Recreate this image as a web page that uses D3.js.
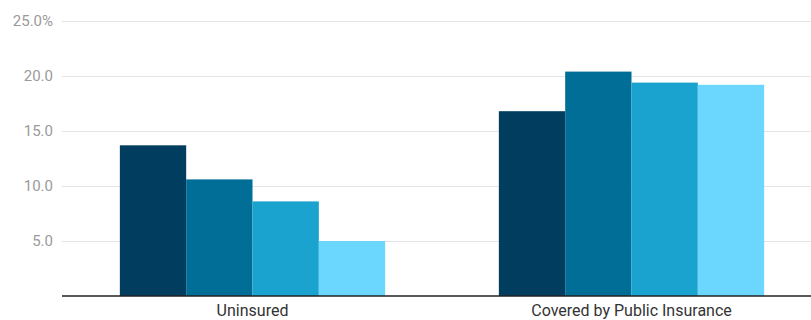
<!DOCTYPE html>
<html><head><meta charset="utf-8">
<script src="https://cdn.jsdelivr.net/npm/d3@7"></script>
<style>html,body{margin:0;padding:0;background:#fff;overflow:hidden}svg{display:block}</style>
</head><body>
<svg id="chart" width="811" height="320"></svg>
<script>
const categories = ["Uninsured", "Covered by Public Insurance"];
const seriesNames = ["Series 1", "Series 2", "Series 3", "Series 4"];
const series1 = [13.7, 16.8];
const series2 = [10.6, 20.4];
const series3 = [8.6, 19.4];
const series4 = [5.0, 19.2];
const seriesColors = ["#003d5f", "#006e96", "#1aa3ce", "#6bd7fe"];
const yTicks = [5, 10, 15, 20, 25];

(function () {
const allSeries = [series1, series2, series3, series4];
const svg = d3.select("#chart");
const mLeft = 62, mRight = 821, mTop = 21, mBottom = 296;

const y = d3.scaleLinear().domain([0, 25]).range([mBottom, mTop]);
const x0 = d3.scaleBand().domain(categories).range([63, mRight]).paddingInner(0.3).paddingOuter(0.15);
const x1 = d3.scaleBand().domain(seriesNames).range([0, x0.bandwidth()]).padding(0);

// gridlines + y labels
const yAxis = d3.axisLeft(y).tickValues(yTicks).tickSize(-(811 - mLeft)).tickPadding(9)
  .tickFormat(d => d === 25 ? d3.format(".1f")(d) + "%" : d3.format(".1f")(d));
const gy = svg.append("g").attr("transform", `translate(${mLeft},0)`).call(yAxis);
gy.select(".domain").remove();
gy.selectAll(".tick line").attr("stroke", "#e5e5e5").attr("stroke-width", 1.2);
gy.selectAll(".tick text").attr("fill", "#9a9a9a").style("font-family", "Roboto, sans-serif").style("font-size", "15px");

// bars
const groups = svg.append("g").selectAll("g").data(categories).join("g")
  .attr("transform", d => `translate(${x0(d)},0)`);
groups.selectAll("rect").data((c, i) => seriesNames.map((s, j) => ({ s, j, v: allSeries[j][i] })))
  .join("rect")
  .attr("x", d => x1(d.s))
  .attr("width", x1.bandwidth())
  .attr("y", d => y(d.v))
  .attr("height", d => y(0) - y(d.v))
  .attr("fill", d => seriesColors[d.j]);

// x axis
const xAxis = d3.axisBottom(x0).tickSize(0).tickPadding(9);
const gx = svg.append("g").attr("transform", `translate(0,${mBottom})`).call(xAxis);
gx.select(".domain").remove();
gx.append("line").attr("x1", mLeft).attr("x2", 811).attr("y1", 0).attr("y2", 0)
  .attr("stroke", "#222").attr("stroke-width", 1.5);
gx.selectAll(".tick text").attr("fill", "#333").style("font-family", "Roboto, sans-serif").style("font-size", "16px");
})();
</script>
</body></html>
